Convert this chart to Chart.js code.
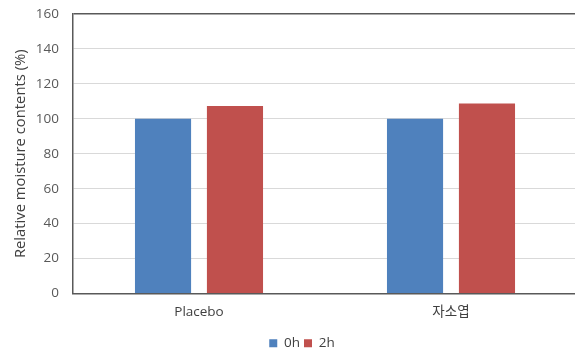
<!DOCTYPE html>
<html>
<head>
<meta charset="utf-8">
<script src="https://cdn.jsdelivr.net/npm/chart.js@4/dist/chart.umd.min.js"></script>
<style>
  html, body { margin: 0; padding: 0; background: #fff; overflow: hidden; }
</style>
</head>
<body>
<canvas id="moistureChart" width="604" height="354"></canvas>
<script>
// Chart data
const categories = ['Placebo', '자소엽'];
const values0h = [100, 100];
const values2h = [107.4, 108.7];
const yTicks = [0, 20, 40, 60, 80, 100, 120, 140, 160];

const fontFamily = "'Open Sans', 'Noto Sans CJK KR', sans-serif";
const yMax = yTicks[yTicks.length - 1];

const ctx = document.getElementById('moistureChart').getContext('2d');
new Chart(ctx, {
    type: 'bar',
    data: {
        labels: categories,
        datasets: [{
            label: '0h',
            data: values0h,
            backgroundColor: '#4f81bd',
            barPercentage: 0.78,
            categoryPercentage: 0.571
        }, {
            label: '2h',
            data: values2h,
            backgroundColor: '#c0504d',
            barPercentage: 0.78,
            categoryPercentage: 0.571
        }]
    },
    options: {
        responsive: false,
        animation: false,
        devicePixelRatio: 1,
        layout: {
            padding: { top: 14, right: 0, left: 0, bottom: -6 }
        },
        plugins: {
            legend: {
                position: 'bottom',
                labels: {
                    boxWidth: 8,
                    boxHeight: 8,
                    padding: 4,
                    color: '#404040',
                    font: { family: fontFamily, size: 13.5 }
                }
            },
            tooltip: { enabled: false }
        },
        scales: {
            x: {
                grid: { display: false },
                border: { color: '#595959', width: 1.5 },
                ticks: {
                    color: '#404040',
                    padding: 3,
                    font: { family: fontFamily, size: 13.5 }
                },
                afterFit: scale => { scale.height = 39; }
            },
            y: {
                min: yTicks[0],
                max: yMax,
                grid: {
                    color: c => c.tick && c.tick.value === yMax ? '#595959' : '#d9d9d9',
                    lineWidth: c => c.tick && c.tick.value === yMax ? 1.5 : 1,
                    drawTicks: false
                },
                border: { color: '#595959', width: 1.5 },
                ticks: {
                    stepSize: yTicks[1] - yTicks[0],
                    autoSkip: false,
                    color: '#595959',
                    padding: 14,
                    font: { family: fontFamily, size: 13.5 }
                },
                title: {
                    display: true,
                    text: 'Relative moisture contents (%)',
                    color: '#404040',
                    padding: { top: 12, bottom: 0 },
                    font: { family: fontFamily, size: 14.8 }
                },
                afterFit: scale => {
                    scale.width = 73;
                    scale.paddingTop = 0;
                }
            },
            // empty right-hand axis: keeps the plot edge off-canvas while the legend stays centred
            yRight: {
                position: 'right',
                display: true,
                grid: { display: false },
                border: { display: false },
                ticks: { display: false },
                afterFit: scale => {
                    scale.width = 27;
                    scale.paddingTop = 0;
                }
            }
        }
    }
});
</script>
</body>
</html>
